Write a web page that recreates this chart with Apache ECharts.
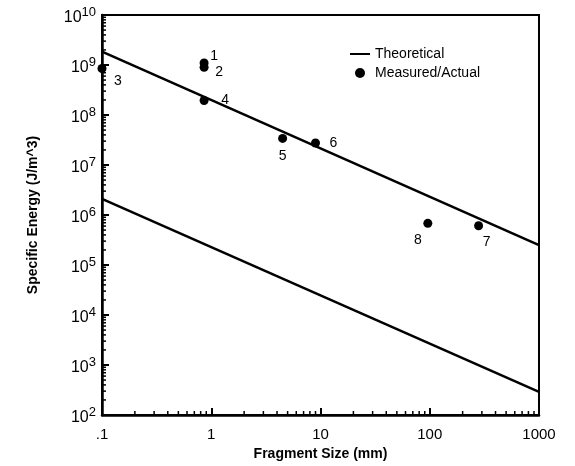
<!DOCTYPE html>
<html><head><meta charset="utf-8">
<script src="https://cdn.jsdelivr.net/npm/echarts@6/dist/echarts.min.js"></script>
<style>html,body{margin:0;padding:0;background:#fff}#c{width:575px;height:466px}</style>
</head><body><div id="c"></div>
<script>
// Data
const xTicks = [0.1, 1, 10, 100, 1000];
const yTicks = [1e2, 1e3, 1e4, 1e5, 1e6, 1e7, 1e8, 1e9, 1e10];
const theoryUpper = [[0.1, 1.85e9], [1000, 2.5e5]];
const theoryLower = [[0.1, 2.1e6], [1000, 2.9e2]];
const pointNames = ['1', '2', '3', '4', '5', '6', '7', '8'];
const pointX = [0.86, 0.86, 0.1, 0.86, 4.5, 9, 280, 96];
const pointY = [1.1e9, 9.0e8, 8.5e8, 1.95e8, 3.4e7, 2.75e7, 6.1e5, 6.8e5];
const minorMult = [2, 3, 4, 5, 6, 7, 8, 9];

const labelOffsets = [[10,-7],[15,5],[16,13],[21,0],[0,18],[18,0],[8,16],[-10,17]];

const xMinor = [];
for (let i = 0; i < xTicks.length - 1; i++) minorMult.forEach(m => xMinor.push([xTicks[i] * m, 100]));
const yMinor = [];
for (let i = 0; i < yTicks.length - 1; i++) minorMult.forEach(m => yMinor.push([0.1, yTicks[i] * m]));

const font = '"Liberation Sans", Arial, sans-serif';
const chart = echarts.init(document.getElementById('c'));
chart.setOption({
  animation: false,
  backgroundColor: '#fff',
  textStyle: {fontFamily: font, color: '#000'},
  grid: {left: 102, right: 36, top: 15, bottom: 48, show: true, borderColor: '#000', borderWidth: 2, containLabel: false},
  legend: {
    orient: 'vertical', left: 345, top: 42, itemGap: 5, itemWidth: 20, itemHeight: 10,
    textStyle: {fontFamily: font, fontSize: 14, color: '#000'},
    data: [
      {name: 'Theoretical', icon: 'path://M0,4 L20,4 L20,6 L0,6 Z', itemStyle: {color: '#000'}},
      {name: 'Measured/Actual', icon: 'circle', itemStyle: {color: '#000', opacity: 1}}
    ]
  },
  xAxis: {
    type: 'log', logBase: 10, min: 0.1, max: 1000,
    name: 'Fragment Size (mm)', nameLocation: 'middle', nameGap: 32,
    nameTextStyle: {fontFamily: font, fontSize: 14, fontWeight: 'bold', color: '#000'},
    axisLine: {lineStyle: {color: '#000', width: 2.5}},
    axisTick: {inside: true, length: 7, lineStyle: {color: '#000', width: 2}},
    splitLine: {show: false},
    axisLabel: {
      color: '#000', fontSize: 15, fontFamily: font, margin: 12,
      formatter: v => v < 0.5 ? '.1' : String(Math.round(v))
    }
  },
  yAxis: {
    type: 'log', logBase: 10, min: 1e2, max: 1e10,
    name: 'Specific Energy (J/m^3)', nameLocation: 'middle', nameGap: 62, nameRotate: 90,
    nameTextStyle: {fontFamily: font, fontSize: 14, fontWeight: 'bold', color: '#000'},
    axisLine: {lineStyle: {color: '#000', width: 2.5}},
    axisTick: {inside: true, length: 7, lineStyle: {color: '#000', width: 2}},
    splitLine: {show: false},
    axisLabel: {
      color: '#000', fontFamily: font, margin: 6,
      formatter: v => '{b|10}{s|' + Math.round(Math.log10(v)) + '}',
      rich: {
        b: {fontSize: 16, fontFamily: font, color: '#000', padding: [6, 0, 0, 0]},
        s: {fontSize: 13, fontFamily: font, color: '#000', padding: [0, 0, 6, 0]}
      }
    }
  },
  series: [
    {name: 'Theoretical', type: 'line', data: theoryUpper, symbol: 'none', lineStyle: {color: '#000', width: 2.5}, itemStyle: {color: '#000'}},
    {name: 'Theoretical', type: 'line', data: theoryLower, symbol: 'none', lineStyle: {color: '#000', width: 2.5}, itemStyle: {color: '#000'}},
    {
      name: 'Measured/Actual', type: 'scatter', symbol: 'circle', symbolSize: 9,
      itemStyle: {color: '#000', opacity: 1},
      data: pointX.map((x, i) => ({
        value: [x, pointY[i]], name: pointNames[i],
        label: {show: true, position: 'inside', offset: labelOffsets[i], formatter: pointNames[i],
                color: '#000', fontSize: 14, fontFamily: font}
      }))
    },
    {
      type: 'custom', silent: true, clip: false, data: xMinor, z: 5,
      renderItem: (params, api) => {
        const p = api.coord([api.value(0), api.value(1)]);
        return {type: 'line', shape: {x1: p[0], y1: p[1], x2: p[0], y2: p[1] - 4}, style: {stroke: '#000', lineWidth: 1.5}};
      }
    },
    {
      type: 'custom', silent: true, clip: false, data: yMinor, z: 5,
      renderItem: (params, api) => {
        const p = api.coord([api.value(0), api.value(1)]);
        return {type: 'line', shape: {x1: p[0], y1: p[1], x2: p[0] + 4, y2: p[1]}, style: {stroke: '#000', lineWidth: 1.5}};
      }
    }
  ]
});
</script></body></html>
